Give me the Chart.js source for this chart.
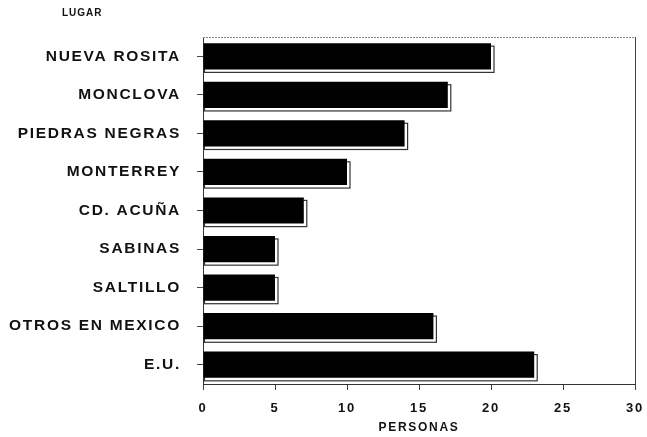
<!DOCTYPE html>
<html lang="es">
<head>
    <meta charset="UTF-8">
    <title>Lugar</title>
    <script src="https://cdn.jsdelivr.net/npm/chart.js"></script>
    <style>
        html, body { margin:0; padding:0; background:#fff; }
        #wrap { width:647px; height:437px; }
    </style>
</head>
<body>
    <div id="wrap"><canvas id="myChart"></canvas></div>

    <script>
        // datos
        const lugares = ['NUEVA ROSITA', 'MONCLOVA', 'PIEDRAS NEGRAS', 'MONTERREY', 'CD. ACUÑA', 'SABINAS', 'SALTILLO', 'OTROS EN MEXICO', 'E.U.'];
        const personas = [20, 17, 14, 10, 7, 5, 5, 16, 23];
        const xTicks = [0, 5, 10, 15, 20, 25, 30];

        const FONT = "'Liberation Sans', Arial, sans-serif";

        // letra espaciada como en el original
        const spacing = {
            id: 'spacing',
            beforeDraw(chart) { chart.ctx.letterSpacing = '1.7px'; }
        };

        // sombra de las barras y marco del area
        const decor = {
            id: 'decor',
            beforeDatasetsDraw(chart) {
                const ctx = chart.ctx;
                const meta = chart.getDatasetMeta(0);
                ctx.save();
                ctx.strokeStyle = '#333';
                ctx.lineWidth = 1.2;
                meta.data.forEach(bar => {
                    const h = bar.height;
                    const top = bar.y - h / 2;
                    ctx.strokeRect(bar.base + 1, top + 3, bar.x - bar.base + 2, h);
                });
                ctx.restore();
            },
            afterDraw(chart) {
                const ctx = chart.ctx;
                const a = chart.chartArea;
                ctx.save();
                ctx.strokeStyle = '#888';
                ctx.lineWidth = 1;
                ctx.setLineDash([2, 1]);
                ctx.beginPath();
                ctx.moveTo(a.left, a.top + 0.5);
                ctx.lineTo(a.right, a.top + 0.5);
                ctx.stroke();
                ctx.setLineDash([]);
                ctx.strokeStyle = '#444';
                ctx.beginPath();
                ctx.moveTo(a.right + 0.5, a.top);
                ctx.lineTo(a.right + 0.5, a.bottom);
                ctx.stroke();
                ctx.letterSpacing = '1px';
                ctx.fillStyle = '#111';
                ctx.font = 'bold 10px ' + FONT;
                ctx.textBaseline = 'middle';
                ctx.fillText('LUGAR', 62, 13);
                ctx.restore();
            }
        };

        const ctx = document.querySelector('#myChart').getContext('2d');
        const myChart = new Chart(ctx, {
            type: 'bar',
            data: {
                labels: lugares,
                datasets: [{
                    label: 'PERSONAS',
                    data: personas,
                    backgroundColor: '#000',
                    borderColor: '#000',
                    borderWidth: 0,
                    barPercentage: 0.68,
                    categoryPercentage: 1
                }]
            },
            options: {
                indexAxis: 'y',
                responsive: true,
                maintainAspectRatio: false,
                animation: false,
                layout: { padding: { top: 37, right: 12, left: 0, bottom: 0 } },
                plugins: {
                    legend: { display: false },
                    tooltip: { enabled: false }
                },
                scales: {
                    x: {
                        min: 0,
                        max: 30,
                        afterBuildTicks: s => { s.ticks = xTicks.map(v => ({ value: v })); },
                        afterFit: s => { s.height = 53; s.paddingRight = 0; s.paddingLeft = 0; },
                        grid: { drawOnChartArea: false, tickLength: 6, color: '#444' },
                        border: { color: '#333', width: 1 },
                        ticks: { color: '#111', font: { family: FONT, size: 13, weight: 'bold' }, padding: 11 },
                        title: {
                            display: true,
                            text: 'PERSONAS',
                            color: '#111',
                            font: { family: FONT, size: 12, weight: 'bold' },
                            padding: { top: 0, bottom: 2 }
                        }
                    },
                    y: {
                        afterFit: s => { s.width = 203; },
                        grid: { drawOnChartArea: false, tickLength: 6, color: '#444', offset: false },
                        border: { color: '#333', width: 1 },
                        ticks: { color: '#111', font: { family: FONT, size: 15.5, weight: 'bold' }, padding: 16 }
                    }
                }
            },
            plugins: [spacing, decor]
        });
    </script>
</body>
</html>
